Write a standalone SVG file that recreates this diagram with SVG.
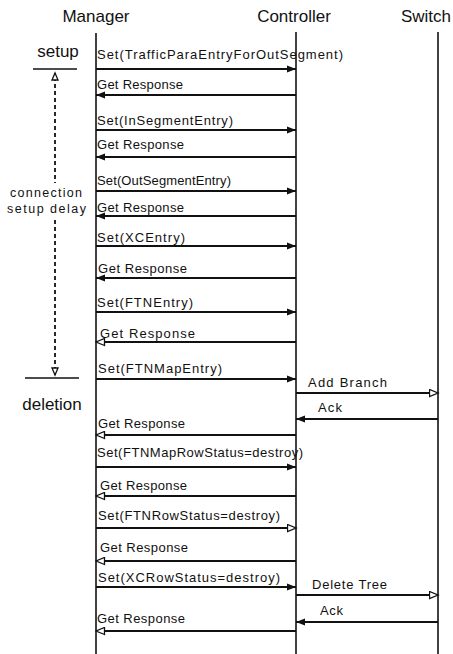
<svg xmlns="http://www.w3.org/2000/svg" width="453" height="654" viewBox="0 0 453 654">
<style>
.hdr{font-family:"Liberation Sans",Arial,sans-serif;font-size:17px;fill:#111}
.lbl{font-family:"Liberation Sans",Arial,sans-serif;font-size:13px;fill:#111}
.ann{font-family:"Liberation Sans",Arial,sans-serif;font-size:12.5px;fill:#111}
.life{stroke:#111;stroke-width:1.6;fill:none}
.msg{stroke:#111;stroke-width:2;fill:none}
.mf{marker-end:url(#af)}
.mo{marker-end:url(#ao)}
</style>
<defs>
<marker id="af" markerUnits="userSpaceOnUse" markerWidth="10" markerHeight="8" refX="9" refY="4" orient="auto">
<path d="M0,0.5 L9,4 L0,7.5 z" fill="#111"/>
</marker>
<marker id="ao" markerUnits="userSpaceOnUse" markerWidth="11" markerHeight="9" refX="9.5" refY="4.5" orient="auto">
<path d="M1,1 L9.5,4.5 L1,8 z" fill="#fff" stroke="#111" stroke-width="1.3"/>
</marker>
<marker id="dau" markerUnits="userSpaceOnUse" markerWidth="10" markerHeight="10" refX="8" refY="4" orient="auto">
<path d="M1,1 L8,4 L1,7 z" fill="#fff" stroke="#111" stroke-width="1.3"/>
</marker>
</defs>
<rect width="453" height="654" fill="#fff"/>
<g id="manager">
<text class="hdr" x="96" y="22" text-anchor="middle">Manager</text>
<line class="life" x1="96" y1="33" x2="96" y2="654"/>
</g>
<g id="controller">
<text class="hdr" x="294" y="22" text-anchor="middle">Controller</text>
<line class="life" x1="296" y1="32" x2="296" y2="654"/>
</g>
<g id="switch">
<text class="hdr" x="426" y="22" text-anchor="middle">Switch</text>
<line class="life" x1="438" y1="32" x2="438" y2="654"/>
</g>
<g id="annotations">
<text class="hdr" x="58" y="57" text-anchor="middle">setup</text>
<line x1="33" y1="69" x2="77" y2="69" stroke="#111" stroke-width="1.6"/>
<line x1="55" y1="200" x2="55" y2="73" stroke="#111" stroke-width="1.8" stroke-dasharray="4,3" marker-end="url(#dau)"/>
<line x1="55" y1="220" x2="55" y2="375" stroke="#111" stroke-width="1.8" stroke-dasharray="4,3" marker-end="url(#dau)"/>
<rect x="8" y="183" width="80" height="35" fill="#fff"/>
<text class="ann" x="10" y="197" textLength="72" lengthAdjust="spacing">connection</text>
<text class="ann" x="7" y="213" textLength="79" lengthAdjust="spacing">setup delay</text>
<line x1="25" y1="378" x2="79" y2="378" stroke="#111" stroke-width="1.6"/>
<text class="hdr" x="52" y="410" text-anchor="middle">deletion</text>
</g>
<g id="connectors">
<line class="msg mf" x1="96" y1="69" x2="296" y2="69"/>
<line class="msg mf" x1="296" y1="95" x2="96" y2="95"/>
<line class="msg mf" x1="96" y1="130" x2="296" y2="130"/>
<line class="msg mf" x1="296" y1="157" x2="96" y2="157"/>
<line class="msg mf" x1="96" y1="191" x2="296" y2="191"/>
<line class="msg mf" x1="296" y1="216" x2="96" y2="216"/>
<line class="msg mf" x1="96" y1="246" x2="296" y2="246"/>
<line class="msg mf" x1="296" y1="278" x2="96" y2="278"/>
<line class="msg mf" x1="96" y1="312" x2="296" y2="312"/>
<line class="msg mo" x1="296" y1="342" x2="96" y2="342"/>
<line class="msg mf" x1="96" y1="379" x2="296" y2="379"/>
<line class="msg mo" x1="296" y1="393" x2="438" y2="393"/>
<line class="msg mf" x1="438" y1="419" x2="296" y2="419"/>
<line class="msg mo" x1="296" y1="435" x2="96" y2="435"/>
<line class="msg mf" x1="96" y1="467" x2="296" y2="467"/>
<line class="msg mo" x1="296" y1="496" x2="96" y2="496"/>
<line class="msg mo" x1="96" y1="528" x2="296" y2="528"/>
<line class="msg mo" x1="296" y1="561" x2="96" y2="561"/>
<line class="msg mf" x1="96" y1="587" x2="296" y2="587"/>
<line class="msg mo" x1="296" y1="595" x2="438" y2="595"/>
<line class="msg mf" x1="438" y1="622" x2="296" y2="622"/>
<line class="msg mo" x1="296" y1="631" x2="96" y2="631"/>
</g>
<g id="labels">
<text class="lbl" x="97" y="59" textLength="246" lengthAdjust="spacing">Set(TrafficParaEntryForOutSegment)</text>
<text class="lbl" x="97" y="89" textLength="86" lengthAdjust="spacing">Get Response</text>
<text class="lbl" x="97" y="125" textLength="136" lengthAdjust="spacing">Set(InSegmentEntry)</text>
<text class="lbl" x="97" y="149" textLength="87" lengthAdjust="spacing">Get Response</text>
<text class="lbl" x="97" y="185" textLength="134" lengthAdjust="spacing">Set(OutSegmentEntry)</text>
<text class="lbl" x="97" y="212" textLength="87" lengthAdjust="spacing">Get Response</text>
<text class="lbl" x="97" y="242" textLength="88" lengthAdjust="spacing">Set(XCEntry)</text>
<text class="lbl" x="98" y="273" textLength="89" lengthAdjust="spacing">Get Response</text>
<text class="lbl" x="97" y="307" textLength="96" lengthAdjust="spacing">Set(FTNEntry)</text>
<text class="lbl" x="100" y="338" textLength="95" lengthAdjust="spacing">Get Response</text>
<text class="lbl" x="98" y="373" textLength="124" lengthAdjust="spacing">Set(FTNMapEntry)</text>
<text class="lbl" x="308" y="387" textLength="79" lengthAdjust="spacing">Add Branch</text>
<text class="lbl" x="318" y="412" textLength="24" lengthAdjust="spacing">Ack</text>
<text class="lbl" x="98" y="428" textLength="87" lengthAdjust="spacing">Get Response</text>
<text class="lbl" x="97" y="457" textLength="206" lengthAdjust="spacing">Set(FTNMapRowStatus=destroy)</text>
<text class="lbl" x="100" y="490" textLength="87" lengthAdjust="spacing">Get Response</text>
<text class="lbl" x="98" y="520" textLength="182" lengthAdjust="spacing">Set(FTNRowStatus=destroy)</text>
<text class="lbl" x="100" y="552" textLength="88" lengthAdjust="spacing">Get Response</text>
<text class="lbl" x="98" y="582" textLength="182" lengthAdjust="spacing">Set(XCRowStatus=destroy)</text>
<text class="lbl" x="312" y="589" textLength="75" lengthAdjust="spacing">Delete Tree</text>
<text class="lbl" x="320" y="615" textLength="23" lengthAdjust="spacing">Ack</text>
<text class="lbl" x="97" y="623" textLength="88" lengthAdjust="spacing">Get Response</text>
</g>
</svg>
